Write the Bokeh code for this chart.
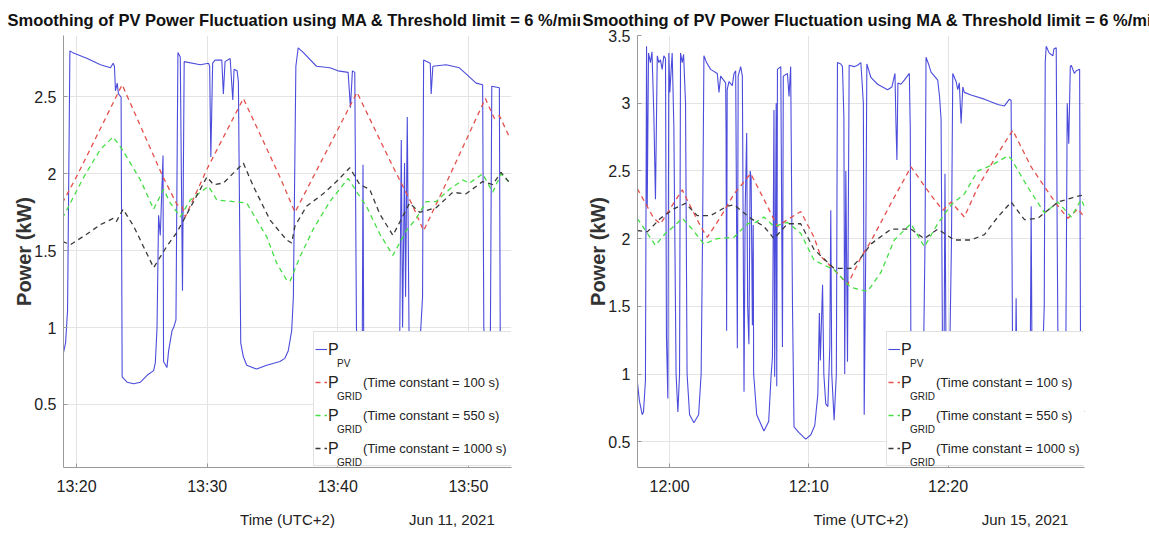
import numpy as np
import pandas as pd
from bokeh.plotting import figure
from bokeh.layouts import row
from bokeh.models import (Range1d, FixedTicker, DatetimeTickFormatter, LinearAxis,
                          Legend, LegendItem)
from bokeh.core.properties import value
from bokeh.embed import file_html
from bokeh.resources import INLINE

# ---------------- texts ----------------
TITLE = "Smoothing of PV Power Fluctuation using MA & Threshold limit = 6 %/min"
X_LABEL = "Time (UTC+2)"
Y_LABEL = "Power (kW)"
LEGEND_MAIN = ["P", "P", "P", "P"]
LEGEND_SUB = ["PV", "GRID", "GRID", "GRID"]
LEGEND_TEXT = [" ", "(Time constant = 100 s)", "(Time constant = 550 s)", "(Time constant = 1000 s)"]

# ---------------- left panel: 11 Jun 2021 (time = minutes after 13:00) ----------------
left_date = "Jun 11, 2021"
left_base = "2021-06-11 13:00:00"
left_xrange = [19.0, 53.3]
left_xticks = ["13:20", "13:30", "13:40", "13:50"]
left_yticks = [0.5, 1, 1.5, 2, 2.5]
left_yrange = [0.09, 2.90]

left_pv = [(18.93, 0.81), (19.16, 0.90), (19.31, 1.11), (19.49, 2.80), (19.67, 2.79),
           (20.82, 2.75), (21.83, 2.71), (22.60, 2.69), (22.80, 2.72), (22.90, 2.70),
           (22.98, 2.54), (23.11, 2.59), (23.21, 2.52), (23.41, 2.50), (23.49, 0.68),
           (23.87, 0.645), (24.37, 0.635), (24.89, 0.645), (25.40, 0.69), (25.90, 0.72),
           (26.03, 0.77), (26.16, 1.00), (26.28, 1.73), (26.41, 1.60), (26.62, 2.12),
           (26.66, 0.78), (26.92, 0.74), (27.05, 0.85), (27.31, 0.98), (27.43, 1.00),
           (27.61, 1.05), (27.76, 2.79), (27.94, 2.76), (28.11, 1.24), (28.24, 2.73),
           (29.47, 2.71), (30.10, 2.72), (30.19, 2.70), (30.28, 2.11), (30.42, 2.72),
           (30.61, 2.74), (31.12, 2.74), (31.24, 2.52), (31.37, 2.73), (31.76, 2.75),
           (31.96, 2.48), (32.06, 2.68), (32.29, 2.67), (32.39, 2.60), (32.57, 0.90),
           (32.77, 0.81), (33.03, 0.755), (33.79, 0.73), (34.56, 0.755), (35.57, 0.78),
           (35.95, 0.80), (36.21, 0.85), (36.47, 0.98), (36.60, 1.20), (36.79, 2.70),
           (36.97, 2.82), (37.35, 2.79), (38.37, 2.70), (39.39, 2.69), (40.02, 2.67),
           (40.79, 2.66), (40.97, 2.43), (41.12, 2.67), (41.30, 2.66), (41.43, 1.00),
           (41.53, 0.75), (41.87, 0.80), (41.93, 2.06), (41.99, 0.80), (43.21, 0.72),
           (44.73, 0.80), (44.86, 2.22), (44.96, 1.00), (45.11, 2.07), (45.19, 1.20),
           (45.32, 2.37), (45.46, 0.90), (46.26, 0.85), (46.49, 1.20), (46.57, 2.74),
           (47.08, 2.72), (47.15, 2.52), (47.28, 2.70), (48.30, 2.71), (49.31, 2.69),
           (49.82, 2.65), (50.59, 2.59), (51.09, 2.58), (51.18, 1.00), (51.35, 0.80),
           (51.68, 0.90), (51.79, 2.57), (52.37, 2.56), (52.44, 0.90), (53.13, 0.80)]

left_red = [(18.91, 1.81), (20.05, 1.99), (23.49, 2.58), (26.62, 1.98), (27.69, 1.80),
            (28.07, 1.79), (28.32, 1.72), (29.98, 2.03), (32.77, 2.49), (35.57, 1.98),
            (36.72, 1.75), (41.47, 2.53), (43.97, 2.09), (45.75, 1.79), (46.57, 1.63),
            (48.30, 1.94), (51.30, 2.49), (51.99, 2.36), (52.37, 2.38), (53.08, 2.25)]

left_green = [(18.91, 1.71), (20.56, 1.98), (21.83, 2.16), (22.80, 2.24), (23.49, 2.16),
              (24.89, 1.96), (25.90, 1.77), (26.66, 1.90), (27.18, 1.81), (27.94, 1.72),
              (28.70, 1.83), (30.10, 1.92), (30.74, 1.83), (32.01, 1.82), (33.03, 1.81),
              (34.56, 1.59), (35.32, 1.42), (36.08, 1.31), (36.34, 1.30), (37.10, 1.46),
              (38.12, 1.64), (39.39, 1.82), (40.79, 1.97), (41.55, 1.87), (42.19, 1.79),
              (43.21, 1.61), (44.22, 1.47), (45.24, 1.63), (46.01, 1.71), (46.77, 1.82),
              (47.53, 1.82), (48.55, 1.90), (49.57, 1.96), (50.08, 1.94), (51.09, 2.00),
              (51.86, 1.88), (52.50, 2.00), (53.08, 1.95)]

left_black = [(18.91, 1.56), (19.54, 1.54), (20.82, 1.61), (21.83, 1.67), (22.80, 1.71),
              (23.05, 1.69), (23.56, 1.77), (24.37, 1.66), (25.90, 1.39), (26.92, 1.53),
              (27.69, 1.62), (29.98, 1.98), (30.48, 1.93), (31.24, 1.94), (32.77, 2.07),
              (33.53, 1.92), (34.81, 1.70), (36.08, 1.57), (36.47, 1.55), (36.72, 1.66),
              (37.61, 1.79), (38.88, 1.87), (39.90, 1.95), (40.92, 2.04), (41.68, 1.93),
              (42.44, 1.90), (43.21, 1.74), (44.22, 1.60), (45.50, 1.81), (46.26, 1.75),
              (47.53, 1.78), (48.80, 1.88), (49.82, 1.87), (51.09, 1.95), (51.86, 1.93),
              (52.50, 2.01), (53.08, 1.95)]

# ---------------- right panel: 15 Jun 2021 (time = minutes after 11:00) ----------------
right_date = "Jun 15, 2021"
right_base = "2021-06-15 11:00:00"
right_xrange = [57.70, 89.80]
right_xticks = ["12:00", "12:10", "12:20"]
right_yticks = [0.5, 1, 1.5, 2, 2.5, 3, 3.5]
right_yrange = [0.31, 3.50]

right_pv = [(57.63, 1.00), (57.84, 0.80), (58.04, 0.70), (58.13, 0.72), (58.27, 0.95),
            (58.35, 3.42), (58.40, 2.24), (58.49, 3.37), (58.63, 3.30), (58.74, 3.38),
            (58.87, 2.93), (58.99, 2.29), (59.12, 3.35), (59.23, 3.30), (59.35, 3.32),
            (59.47, 3.25), (59.59, 3.35), (59.71, 3.33), (59.78, 1.27), (59.88, 0.82),
            (59.95, 3.37), (60.02, 3.08), (60.19, 3.37), (60.31, 2.83), (60.47, 1.00),
            (60.60, 0.72), (60.72, 1.00), (60.79, 3.37), (60.91, 3.30), (61.01, 3.36),
            (61.15, 3.00), (61.26, 1.00), (61.44, 0.70), (61.75, 0.64), (62.09, 0.70),
            (62.27, 1.00), (62.37, 2.00), (62.47, 3.35), (62.66, 3.30), (62.95, 3.25),
            (63.43, 3.22), (63.55, 3.08), (63.67, 3.20), (64.03, 3.15), (64.06, 2.80),
            (64.10, 1.32), (64.14, 3.10), (64.27, 3.16), (64.51, 3.13), (64.63, 3.22),
            (64.75, 3.24), (64.87, 1.19), (64.93, 3.20), (65.11, 3.27), (65.23, 3.20),
            (65.35, 0.87), (65.43, 2.20), (65.54, 2.78), (65.61, 1.50), (65.70, 1.22),
            (65.79, 2.50), (65.86, 2.45), (65.95, 1.36), (66.01, 2.10), (66.04, 1.00),
            (66.26, 0.70), (66.78, 0.58), (67.12, 0.65), (67.30, 1.00), (67.39, 1.12),
            (67.50, 2.95), (67.55, 0.98), (67.66, 3.00), (67.70, 0.91), (67.75, 3.25),
            (67.99, 3.27), (68.11, 1.20), (68.17, 3.20), (68.47, 3.22), (68.58, 3.05),
            (68.70, 3.27), (68.83, 1.50), (68.94, 0.61), (69.28, 0.57), (69.78, 0.52),
            (70.14, 0.55), (70.43, 0.62), (70.65, 0.85), (70.76, 1.45), (70.83, 1.10),
            (70.99, 1.66), (71.08, 1.00), (71.22, 0.78), (71.37, 0.76), (71.51, 1.20),
            (71.58, 2.21), (71.65, 1.00), (71.82, 0.66), (71.98, 1.00), (72.06, 3.30),
            (72.30, 3.29), (72.42, 3.27), (72.52, 2.90), (72.58, 1.00), (72.66, 2.50),
            (72.78, 1.09), (72.90, 3.28), (73.26, 3.27), (73.50, 3.28), (73.74, 3.30),
            (73.92, 3.00), (73.98, 0.70), (74.10, 2.00), (74.17, 3.29), (74.46, 3.19),
            (74.94, 3.14), (75.66, 3.10), (75.97, 3.12), (76.19, 3.22), (76.26, 2.85),
            (76.33, 2.58), (76.40, 3.15), (76.62, 3.14), (76.86, 3.17), (77.22, 3.22),
            (77.29, 2.80), (77.34, 0.80), (77.70, 0.70), (78.20, 0.80), (78.35, 2.00),
            (78.42, 3.34), (78.63, 3.28), (78.78, 3.23), (79.26, 3.17), (79.39, 3.05),
            (79.50, 2.88), (79.62, 0.90), (79.71, 1.00), (79.78, 2.48), (79.86, 1.00),
            (80.07, 0.80), (80.25, 2.00), (80.34, 3.22), (80.58, 3.16), (80.70, 3.10),
            (80.81, 3.15), (80.94, 2.85), (81.06, 3.12), (81.17, 3.08), (81.65, 3.06),
            (82.61, 3.03), (83.58, 2.99), (84.05, 2.98), (84.41, 3.03), (84.53, 3.02),
            (84.65, 0.90), (84.82, 0.80), (84.89, 1.56), (84.96, 0.85), (85.61, 0.75),
            (85.90, 1.00), (85.97, 2.24), (86.04, 0.90), (86.69, 0.80), (86.91, 1.50),
            (86.98, 3.30), (87.05, 3.42), (87.27, 3.37), (87.53, 3.35), (87.60, 3.40),
            (87.77, 3.41), (87.84, 2.00), (87.91, 1.00), (87.99, 0.80), (88.27, 0.75),
            (88.45, 1.00), (88.56, 3.00), (88.67, 2.70), (88.78, 3.27), (88.85, 3.28),
            (89.07, 3.22), (89.21, 3.24), (89.45, 3.25), (89.52, 1.00), (89.64, 0.75),
            (89.78, 0.72)]

right_red = [(57.68, 2.37), (58.87, 2.15), (59.35, 2.11), (60.91, 2.36), (62.23, 2.09),
             (62.71, 2.01), (63.67, 2.16), (64.63, 2.33), (65.83, 2.48), (66.78, 2.29),
             (67.75, 2.09), (68.47, 2.14), (69.42, 2.20), (70.38, 2.01), (70.86, 1.87),
             (72.30, 1.72), (72.78, 1.66), (73.74, 1.86), (74.46, 1.98), (75.90, 2.26),
             (77.34, 2.53), (78.78, 2.32), (79.62, 2.21), (80.22, 2.27), (81.17, 2.16),
             (82.14, 2.38), (83.58, 2.63), (84.65, 2.80), (85.97, 2.53), (87.41, 2.31),
             (88.13, 2.21), (88.61, 2.15), (89.33, 2.22), (89.78, 2.16)]

right_green = [(57.68, 2.15), (58.40, 2.04), (58.99, 1.95), (59.71, 2.04), (60.31, 2.09),
               (60.91, 2.15), (61.63, 2.07), (62.47, 1.96), (63.43, 2.00), (64.63, 2.01),
               (65.59, 2.11), (66.19, 2.12), (66.78, 2.16), (67.50, 2.09), (68.47, 2.12),
               (69.42, 2.04), (70.38, 1.84), (71.82, 1.77), (73.02, 1.64), (74.22, 1.61),
               (75.18, 1.75), (76.14, 1.99), (77.34, 2.11), (78.30, 1.94), (79.26, 2.11),
               (80.22, 2.25), (81.17, 2.33), (82.14, 2.50), (83.09, 2.54), (84.29, 2.61),
               (84.53, 2.59), (85.73, 2.38), (86.93, 2.19), (87.89, 2.27), (88.85, 2.16),
               (89.57, 2.29), (89.78, 2.24)]

right_black = [(57.68, 2.06), (58.40, 2.05), (59.35, 2.15), (60.31, 2.22), (61.15, 2.26),
               (61.99, 2.17), (62.95, 2.17), (64.15, 2.24), (64.63, 2.25), (65.83, 2.15),
               (66.78, 2.09), (67.50, 2.00), (68.47, 2.11), (69.42, 2.11), (70.38, 1.92),
               (71.82, 1.78), (73.02, 1.78), (73.74, 1.86), (74.46, 1.96), (75.90, 2.07),
               (77.34, 2.07), (78.30, 2.00), (79.26, 2.07), (80.45, 1.99), (81.65, 1.99),
               (82.61, 2.03), (83.58, 2.16), (84.53, 2.27), (85.49, 2.14), (86.45, 2.15),
               (87.89, 2.27), (88.85, 2.30), (89.57, 2.32), (89.78, 2.29)]

# ---------------- styling ----------------
FONT = "Liberation Sans"
PV_COLOR = "#3838d8"
RED = "#e4504c"
GREEN = "#45df45"
BLACK = "#3a3a3a"
TXT = "#222222"
AXIS = "#9a9a9a"
GRID = "#e4e4e4"

EPOCH = pd.Timestamp("1970-01-01")


def to_ms(base, minutes):
    ts = pd.Timestamp(base) + pd.to_timedelta(np.asarray(minutes, dtype=float), unit="m")
    return np.asarray((ts - EPOCH) / pd.Timedelta(milliseconds=1), dtype=float)


def tick_ms(base, labels):
    day = pd.Timestamp(base).strftime("%Y-%m-%d")
    return [float((pd.Timestamp(f"{day} {lab}") - EPOCH) / pd.Timedelta(milliseconds=1)) for lab in labels]


def text_legend(labels, x, y, font_size, dummy):
    items = [LegendItem(label=value(t), renderers=[dummy]) for t in labels]
    return Legend(items=items, location=(x, y), orientation="vertical",
                  glyph_width=1, glyph_height=32, label_height=32, label_width=10,
                  label_standoff=0, padding=1, spacing=1, margin=0,
                  label_text_font=FONT, label_text_font_size=font_size, label_text_color=TXT,
                  border_line_color=None, background_fill_alpha=0.0)


def make_panel(width, border_left, frame_w, title_offset, date_text, base, xr, xticks, yr, yticks,
               pv, red, green, black):
    height = 534
    bt, bb = 35, 67
    p = figure(width=width, height=height, x_axis_type="datetime",
               output_backend="svg", toolbar_location=None,
               x_range=Range1d(*to_ms(base, xr)), y_range=Range1d(*yr),
               min_border_left=border_left, min_border_right=width - border_left - frame_w,
               min_border_top=bt, min_border_bottom=bb)
    p.outline_line_color = None
    p.background_fill_color = "white"

    # title
    p.title.text = TITLE
    p.title.text_font = FONT
    p.title.text_font_size = "16.5px"
    p.title.text_font_style = "bold"
    p.title.text_color = "#111111"
    p.title.align = "left"
    p.title.vertical_align = "bottom"
    p.title.offset = title_offset
    p.title.standoff = 13

    # axes
    p.xaxis.ticker = FixedTicker(ticks=tick_ms(base, xticks))
    p.xaxis.formatter = DatetimeTickFormatter(minutes="%H:%M", hourmin="%H:%M", hours="%H:%M",
                                              minsec="%H:%M", seconds="%H:%M", days="%H:%M",
                                              strip_leading_zeros=False)
    p.yaxis.ticker = FixedTicker(ticks=yticks)
    p.yaxis.major_label_overrides = {int(v): str(int(v)) for v in yticks if float(v).is_integer()}
    for ax in (p.xaxis[0], p.yaxis[0]):
        ax.axis_line_color = AXIS
        ax.major_tick_line_color = AXIS
        ax.major_tick_in = 4
        ax.major_tick_out = 0
        ax.minor_tick_line_color = None
        ax.major_label_text_font = FONT
        ax.major_label_text_font_size = "16px"
        ax.major_label_text_color = TXT
    p.xaxis.major_label_standoff = 10
    p.yaxis.major_label_standoff = 7
    p.yaxis.axis_label = Y_LABEL
    p.yaxis.axis_label_text_font = FONT
    p.yaxis.axis_label_text_font_size = "20px"
    p.yaxis.axis_label_text_font_style = "bold"
    p.yaxis.axis_label_text_color = "#333333"
    p.yaxis.axis_label_standoff = -4

    p.xgrid.grid_line_color = GRID
    p.ygrid.grid_line_color = GRID

    # second, line-less axis under the time axis carrying the axis title (centred)
    # and the date (right), on one line
    date_w = 6.34 * 15
    date_pos = round(1 - (12 + date_w / 2) / frame_w, 3)
    p.extra_x_ranges = {"lab": Range1d(0, 1)}
    lax = LinearAxis(x_range_name="lab", ticker=FixedTicker(ticks=[0.5, date_pos]),
                     major_label_overrides={0.5: X_LABEL, date_pos: date_text},
                     axis_line_color=None, major_tick_line_color=None, minor_tick_line_color=None,
                     major_label_standoff=7, major_label_text_font=FONT,
                     major_label_text_font_size="15px", major_label_text_color=TXT)
    p.add_layout(lax, "below")

    # data
    pt, pvv = zip(*pv)
    r_pv = p.line(to_ms(base, pt), list(pvv), line_color=PV_COLOR, line_width=1.1, line_alpha=0.9)
    rs = []
    for data, col in ((red, RED), (green, GREEN), (black, BLACK)):
        t, v = zip(*data)
        rs.append(p.line(to_ms(base, t), list(v), line_color=col, line_width=1.3, line_dash="5 4"))
    dummy = p.line(x=[], y=[], line_alpha=0)

    # legend: glyph samples + description text, in a bordered box
    leg_w = 198
    leg_left = frame_w - leg_w
    leg_y = 1
    items = [LegendItem(label=value(txt), renderers=[r]) for txt, r in zip(LEGEND_TEXT, [r_pv] + rs)]
    legend = Legend(items=items, location=(leg_left, leg_y), orientation="vertical",
                    glyph_width=12, glyph_height=32, label_height=32, label_width=147,
                    label_standoff=36, padding=1, spacing=1, margin=0,
                    label_text_font=FONT, label_text_font_size="13px", label_text_color=TXT,
                    border_line_color="#c4c4c4", border_line_width=1,
                    background_fill_color="white", background_fill_alpha=1.0)
    p.add_layout(legend, "center")
    # "P" symbols and their subscripts, overlaid on the legend rows
    p.add_layout(text_legend(LEGEND_MAIN, leg_left + 14, leg_y + 1, "16px", dummy), "center")
    p.add_layout(text_legend(LEGEND_SUB, leg_left + 23, leg_y - 12, "10px", dummy), "center")
    return p


p1 = make_panel(580, 63, 448, -56, left_date, left_base, left_xrange, left_xticks,
                left_yrange, left_yticks, left_pv, left_red, left_green, left_black)
p2 = make_panel(569, 57, 447, -55, right_date, right_base, right_xrange, right_xticks,
                right_yrange, right_yticks, right_pv, right_red, right_green, right_black)

layout = row(p1, p2)
open("out.html", "w").write(file_html(layout, INLINE))
